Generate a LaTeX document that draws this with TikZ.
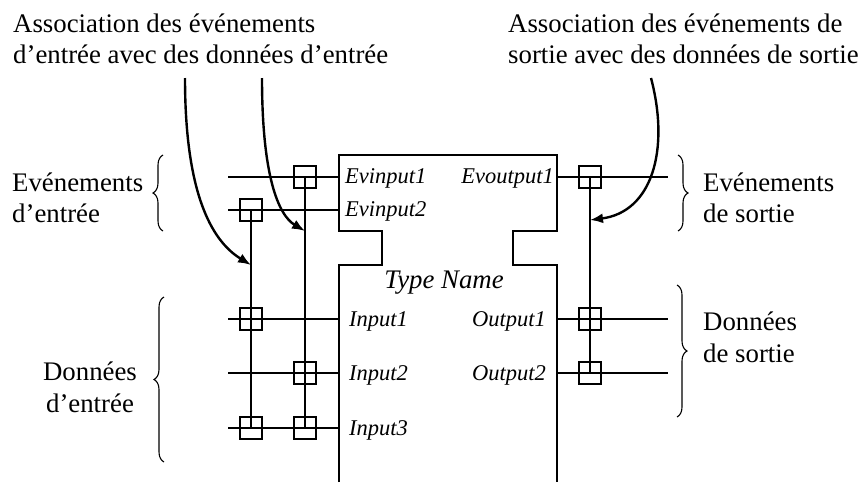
\documentclass[tikz,border=0pt]{standalone}
\usepackage{fontspec}
\setmainfont{Liberation Serif}
\usetikzlibrary{decorations.pathreplacing,arrows.meta}
\begin{document}
\begin{tikzpicture}[x=1pt,y=-1pt,
  big/.style={font=\fontsize{26.8}{32}\selectfont, inner sep=0pt, anchor=base west},
  lab/.style={font=\fontsize{22.5}{27}\selectfont\itshape, inner sep=0pt},
  wire/.style={line width=1.5pt},
  sq/.style={draw, rectangle, line width=1.3pt, minimum size=22pt, inner sep=0pt},
  arr/.style={line width=2.4pt, -{Latex[length=13pt,width=10pt]}},
  br/.style={decorate, decoration={brace, amplitude=10pt}, line width=1.1pt}]
\useasboundingbox (0,0) rectangle (861,482);

% block outline
\draw[wire] (339,482) -- (339,265) -- (382,265) -- (382,231) -- (339,231) -- (339,155)
  -- (557,155) -- (557,231) -- (513,231) -- (513,265) -- (557,265) -- (557,482);

% wire end points
\coordinate (we1) at (228,177); \coordinate (be1) at (339,177);
\coordinate (we2) at (228,210); \coordinate (be2) at (339,210);
\coordinate (wi1) at (228,319); \coordinate (bi1) at (339,319);
\coordinate (wi2) at (228,373); \coordinate (bi2) at (339,373);
\coordinate (wi3) at (228,428); \coordinate (bi3) at (339,428);
\coordinate (bo0) at (557,177); \coordinate (wo0) at (668,177);
\coordinate (bo1) at (557,319); \coordinate (wo1) at (668,319);
\coordinate (bo2) at (557,373); \coordinate (wo2) at (668,373);

\draw[wire] (we1) -- (be1);
\draw[wire] (we2) -- (be2);
\draw[wire] (wi1) -- (bi1);
\draw[wire] (wi2) -- (bi2);
\draw[wire] (wi3) -- (bi3);
\draw[wire] (bo0) -- (wo0);
\draw[wire] (bo1) -- (wo1);
\draw[wire] (bo2) -- (wo2);

% association squares
\node[sq] (qe1) at (305,177) {};
\node[sq] (qe2) at (251,210) {};
\node[sq] (qi1) at (251,319) {};
\node[sq] (qi2) at (305,373) {};
\node[sq] (qi3a) at (251,428) {};
\node[sq] (qi3b) at (305,428) {};
\node[sq] (qo0) at (590,177) {};
\node[sq] (qo1) at (590,319) {};
\node[sq] (qo2) at (590,373) {};

\draw[wire] (qe2.center) -- (qi3a.center);
\draw[wire] (qe1.center) -- (qi3b.center);
\draw[wire] (qo0.center) -- (qo2.center);

% port labels
\node[lab, anchor=base west] (l1) at (345,183) {Evinput1};
\node[lab, anchor=base west] (l2) at (345,216) {Evinput2};
\node[lab, anchor=base east] (l3) at (554,183) {Evoutput1};
\node[lab, anchor=base west] (l4) at (349,326) {Input1};
\node[lab, anchor=base west] (l5) at (349,380) {Input2};
\node[lab, anchor=base west] (l6) at (349,435) {Input3};
\node[lab, anchor=base east] (l7) at (546,326) {Output1};
\node[lab, anchor=base east] (l8) at (546,380) {Output2};
\node[big, anchor=base, font=\fontsize{26.8}{32}\selectfont\itshape] (tn) at (444,288) {Type Name};

% headings
\node[big] (h1) at (13,32) {Association des événements};
\node[big] (h2) at (13,63) {d’entrée avec des données d’entrée};
\node[big] (h3) at (508,32) {Association des événements de};
\node[big] (h4) at (508,63) {sortie avec des données de sortie};

% side labels
\node[big] (s1) at (12,191) {Evénements};
\node[big] (s2) at (12,222) {d’entrée};
\node[big] (s3) at (703,191) {Evénements};
\node[big] (s4) at (703,222) {de sortie};
\node[big, anchor=base] (s5) at (90,380) {Données};
\node[big, anchor=base] (s6) at (90,412) {d’entrée};
\node[big] (s7) at (703,330) {Données};
\node[big] (s8) at (703,362) {de sortie};

% braces
\draw[br] (163,231) -- (163,155);
\draw[br] (164,462) -- (164,297);
\draw[br] (678,155) -- (678,231);
\draw[br] (677,285) -- (677,417);

% association arrows
\coordinate (a1) at (185,78); \coordinate (t1) at (251,265);
\coordinate (a2) at (262,78); \coordinate (t2) at (305,231);
\coordinate (a3) at (651,78); \coordinate (t3) at (590,220);
\draw[arr] (a1) .. controls (185,190) and (210,240) .. (t1);
\draw[arr] (a2) .. controls (262,175) and (278,215) .. (t2);
\draw[arr] (a3) .. controls (670,150) and (652,212) .. (t3);
\end{tikzpicture}
\end{document}
